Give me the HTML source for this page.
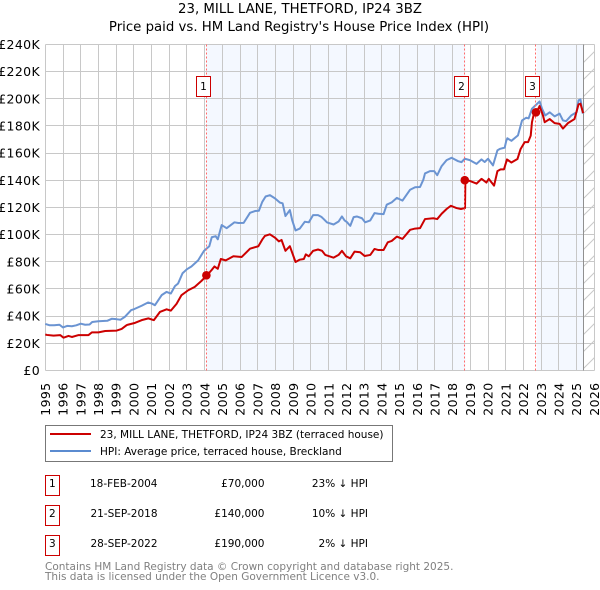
<!DOCTYPE html>
<html lang="en">
<head>
<meta charset="utf-8">
<title>23, Mill Lane, Thetford - Price paid vs HPI</title>
<style>
html,body{margin:0;padding:0;background:#fff;width:600px;height:590px;overflow:hidden}
svg{display:block}
text{font-family:"DejaVu Sans","Liberation Sans",sans-serif;fill:#000}
.tick{font-size:12.5px;letter-spacing:.35px}
.title{font-size:13.3px}
.leg{font-size:10.5px}
.row{font-size:10.5px}
.foot{font-size:10.5px;fill:#808080}
</style>
</head>
<body>
<svg id="chart" xmlns="http://www.w3.org/2000/svg" width="600" height="590" viewBox="0 0 600 590">
  <defs>
    <pattern id="hatch" patternUnits="userSpaceOnUse" width="17" height="17">
      <line x1="0" y1="17" x2="17" y2="0" stroke="#c8c8c8" stroke-width="1"/>
    </pattern>
  </defs>
  <text class="title" x="300" y="13" text-anchor="middle">23, MILL LANE, THETFORD, IP24 3BZ</text>
  <text class="title" x="299" y="31" text-anchor="middle">Price paid vs. HM Land Registry's House Price Index (HPI)</text>
  <g id="bands"></g>
  <g id="grid"></g>
  <g id="xticks"></g>
  <g id="yticks"></g>
  <g id="series"></g>
  <g id="marks"></g>

  <g>
    <rect x="45.5" y="425.5" width="347" height="36" fill="#fff" stroke="#777"/>
    <line x1="50" y1="434" x2="91" y2="434" stroke="#cc0000" stroke-width="2"/>
    <text class="leg" x="100" y="438">23, MILL LANE, THETFORD, IP24 3BZ (terraced house)</text>
    <line x1="50" y1="451" x2="91" y2="451" stroke="#5b8bd0" stroke-width="2"/>
    <text class="leg" x="100" y="455">HPI: Average price, terraced house, Breckland</text>
  </g>

  <g>
    <g>
      <rect x="45.5" y="475.5" width="14" height="20" fill="#fff" stroke="#cc0000"/>
      <text class="row" x="52.3" y="487" text-anchor="middle">1</text>
      <text class="row" x="157.5" y="487" text-anchor="end">18-FEB-2004</text>
      <text class="row" x="264.5" y="487" text-anchor="end">£70,000</text>
      <text class="row" x="368" y="487" text-anchor="end">23% ↓ HPI</text>
    </g>
    <g>
      <rect x="45.5" y="505.5" width="14" height="20" fill="#fff" stroke="#cc0000"/>
      <text class="row" x="52.3" y="517" text-anchor="middle">2</text>
      <text class="row" x="157.5" y="517" text-anchor="end">21-SEP-2018</text>
      <text class="row" x="264.5" y="517" text-anchor="end">£140,000</text>
      <text class="row" x="368" y="517" text-anchor="end">10% ↓ HPI</text>
    </g>
    <g>
      <rect x="45.5" y="535.5" width="14" height="20" fill="#fff" stroke="#cc0000"/>
      <text class="row" x="52.3" y="547" text-anchor="middle">3</text>
      <text class="row" x="157.5" y="547" text-anchor="end">28-SEP-2022</text>
      <text class="row" x="264.5" y="547" text-anchor="end">£190,000</text>
      <text class="row" x="368" y="547" text-anchor="end">2% ↓ HPI</text>
    </g>
  </g>

  <text class="foot" x="45" y="570">Contains HM Land Registry data © Crown copyright and database right 2025.</text>
  <text class="foot" x="45" y="580">This data is licensed under the Open Government Licence v3.0.</text>
</svg>
<script>
var yearTicks = [1995,1996,1997,1998,1999,2000,2001,2002,2003,2004,2005,2006,2007,2008,2009,2010,2011,2012,2013,2014,2015,2016,2017,2018,2019,2020,2021,2022,2023,2024,2025,2026];
var valueTicks = [0,20,40,60,80,100,120,140,160,180,200,220,240];
var valueTickLabels = ["£0","£20K","£40K","£60K","£80K","£100K","£120K","£140K","£160K","£180K","£200K","£220K","£240K"];
var saleDates = [2004.13,2018.72,2022.74];
var saleValues = [70,140,190];
var saleLabels = ["1","2","3"];
var dataEnd = 2025.4;
var hpiDates = [1995,1995.25,1995.5,1995.8,1996,1996.25,1996.5,1996.75,1997,1997.25,1997.5,1997.65,1998,1998.5,1998.75,1999,1999.25,1999.5,1999.85,2000,2000.44,2000.8,2001,2001.19,2001.57,2001.85,2002.09,2002.32,2002.5,2002.75,2003,2003.25,2003.63,2003.96,2004.26,2004.4,2004.62,2004.74,2004.96,2005.24,2005.68,2005.9,2006.2,2006.56,2006.84,2007.06,2007.25,2007.44,2007.68,2007.96,2008.25,2008.4,2008.56,2008.81,2008.94,2009.13,2009.37,2009.65,2009.88,2010.12,2010.4,2010.59,2010.72,2010.91,2011.28,2011.56,2011.75,2011.9,2012.03,2012.22,2012.41,2012.59,2012.88,2013.06,2013.35,2013.59,2013.81,2014.1,2014.28,2014.56,2014.85,2015.17,2015.6,2015.88,2016.16,2016.35,2016.44,2016.72,2016.96,2017.13,2017.38,2017.66,2017.94,2018.31,2018.5,2018.69,2018.97,2019.35,2019.63,2019.81,2020,2020.28,2020.53,2020.66,2020.94,2021.03,2021.09,2021.32,2021.69,2021.92,2022.16,2022.29,2022.48,2022.67,2022.91,2023.05,2023.23,2023.48,2023.76,2024.04,2024.23,2024.41,2024.7,2025,2025.11,2025.22,2025.35];
var hpiValues = [34.2,33.2,33.2,33.6,31.6,32.8,32.5,33.2,34.4,33.6,33.8,35.6,36.2,36.5,38,37.7,37.3,39.5,44.4,45,47.6,50,49.3,48,55.4,57.8,56.6,62,64,71.5,74.5,76.5,81,88,91.4,98,98.8,96.5,107,104.7,109,108.5,108.6,116,117.3,117.5,124,128,129,126.7,123.5,123,113.6,118,110.6,103,104.4,109.4,109,114.3,114.3,113,111.4,108.9,107.4,109.6,113.3,110.4,109.2,106.4,112.8,113.3,112,109,110.4,115.8,115.3,115,122,123.7,127,125,133,134.8,135,140.5,145,146.7,146.7,143.7,150.4,154.8,156.5,154,153.3,155.8,154.8,152,155.3,153.4,155.8,150.9,162,163,164,169,170.9,169,173,184,186,185.5,192.6,195,198,192.6,187.7,190,187,189,184,183.5,187.7,190,198.8,199.5,189];
var propertyDates = [1995,1995.09,1995.47,1995.84,1996.03,1996.31,1996.5,1996.88,1997.44,1997.63,1998,1998.38,1999.03,1999.31,1999.6,2000.07,2000.44,2000.82,2001.13,2001.47,2001.85,2002.09,2002.41,2002.69,2003.07,2003.44,2003.82,2004.13,2004.4,2004.55,2004.74,2004.91,2005.19,2005.62,2006.09,2006.56,2007.03,2007.25,2007.4,2007.68,2007.96,2008.19,2008.34,2008.56,2008.81,2009.13,2009.37,2009.6,2009.71,2009.88,2010.12,2010.4,2010.63,2010.81,2011.28,2011.56,2011.75,2011.98,2012.22,2012.46,2012.78,2013.03,2013.35,2013.59,2013.81,2014.1,2014.34,2014.56,2014.85,2015.17,2015.6,2015.88,2016.16,2016.44,2016.91,2017.13,2017.38,2017.66,2017.9,2018.22,2018.47,2018.7,2018.72,2018.97,2019.35,2019.63,2019.91,2020.04,2020.34,2020.53,2020.71,2020.9,2021.07,2021.32,2021.66,2021.84,2022.07,2022.26,2022.41,2022.48,2022.59,2022.74,2022.91,2023.1,2023.2,2023.48,2023.76,2024.04,2024.23,2024.51,2024.88,2025.11,2025.22,2025.37];
var propertyValues = [26.5,26.1,25.6,26,24.1,25.4,24.6,26,26,28,28,29,29.3,30.5,33.4,35,37,38.3,37,43,45,44,49,55.4,59,61.5,65.9,70,74,76.5,74.8,82,81,84,83.5,89.6,91.4,96.3,99,100.2,97.8,95,96,88,91.4,79.8,81.5,82,85.4,84,88,89,88,85,83,85,88,84,82.5,87.4,87,84.2,85,89.4,88.6,88.6,94.3,95.3,98.5,96.8,103.5,104.4,104.7,111.4,112,111.4,115.3,118.8,121.2,119.5,118.8,119.5,140,139.5,137.5,141,138.3,141,136,146.7,148,148,155.3,153,155.6,163,168,168,172.8,182.7,189,190,194.6,187.7,182.7,185,182,181.5,178,182,185,195.8,196.3,189.4];

var NS = "http://www.w3.org/2000/svg";
var plotLeft = 45.3, plotRight = 594.3, plotBottom = 370.4, pxPerK = 1.3585;
function xScale(year){ return plotLeft + (year - 1995) * (plotRight - plotLeft) / 31; }
function yScale(k){ return plotBottom - k * pxPerK; }
function snap(v){ return Math.floor(v) + 0.5; }
function make(tag, parent, attrs){
  var el = document.createElementNS(NS, tag);
  for (var key in attrs) { el.setAttribute(key, attrs[key]); }
  document.getElementById(parent).appendChild(el);
  return el;
}
function linePath(dates, values){
  return dates.map(function(d, i){
    return (i ? "L" : "M") + xScale(d).toFixed(2) + " " + yScale(values[i]).toFixed(2);
  }).join("");
}

var top_ = snap(yScale(240)), bottom_ = snap(yScale(0));
var left_ = snap(xScale(1995)), right_ = snap(xScale(2026));

// shading between sales
var bandA = make("rect", "bands", {x: snap(xScale(saleDates[0])), y: top_, width: snap(xScale(saleDates[1])) - snap(xScale(saleDates[0])), height: bottom_ - top_, fill: "#f4f8ff"});


var bandB = make("rect", "bands", {x: snap(xScale(saleDates[2])), y: top_, width: snap(xScale(dataEnd)) - snap(xScale(saleDates[2])), height: bottom_ - top_, fill: "#f4f8ff"});


var hatchRect = make("rect", "bands", {x: snap(xScale(dataEnd)), y: top_, width: right_ - snap(xScale(dataEnd)), height: bottom_ - top_, fill: "url(#hatch)"});



// vertical grid + x labels
yearTicks.forEach(function(year){
  var x = snap(xScale(year));
  var gl = make("line", "grid", {x1: x, x2: x, y1: top_, y2: bottom_, stroke: "#c8c8c8", "stroke-width": 1});
  
  
  var tx = xScale(year) + 4.6;
  var label = make("text", "xticks", {"class": "tick", x: tx, y: 382.5, "text-anchor": "end", transform: "rotate(-90 " + tx + " 382.5)"});
  
  
  label.textContent = year;
});

// horizontal grid + y labels
valueTicks.forEach(function(v, i){
  var y = snap(yScale(v));
  var gl = make("line", "grid", {x1: left_, x2: right_, y1: y, y2: y, stroke: "#c8c8c8", "stroke-width": 1});
  
  
  var label = make("text", "yticks", {"class": "tick", x: 40, y: yScale(v) + 4.6, "text-anchor": "end"});
  
  
  label.textContent = valueTickLabels[i];
});

// latest-data divider
var divider = make("line", "grid", {x1: snap(xScale(dataEnd)), x2: snap(xScale(dataEnd)), y1: top_, y2: bottom_, stroke: "#909090", "stroke-width": 1});



// series
var hpiLine = make("path", "series", {d: linePath(hpiDates, hpiValues), fill: "none", stroke: "#6b94d2", "stroke-width": 2, "stroke-linejoin": "round"});


var propLine = make("path", "series", {d: linePath(propertyDates, propertyValues), fill: "none", stroke: "#cc0000", "stroke-width": 2, "stroke-linejoin": "round"});



// sale markers
saleDates.forEach(function(d, i){
  var x = xScale(d) - 0.6;
  var dash = make("line", "marks", {x1: snap(x), x2: snap(x), y1: top_, y2: bottom_, stroke: "#ff6b6b", "stroke-width": 1, "stroke-dasharray": "2 2"});
  
  
  var dot = make("circle", "marks", {cx: x, cy: yScale(saleValues[i]), r: 4.3, fill: "#cc0000"});
  
  
  var boxX = Math.floor(x) - 10 + 0.5;
  var box = make("rect", "marks", {x: boxX, y: 76.5, width: 14, height: 20, fill: "#fff", stroke: "#cc0000"});
  
  
  var num = make("text", "marks", {x: boxX + 7, y: 90, "text-anchor": "middle", "font-size": "10.5px"});
  
  
  num.textContent = saleLabels[i];
});
</script>
</body>
</html>
